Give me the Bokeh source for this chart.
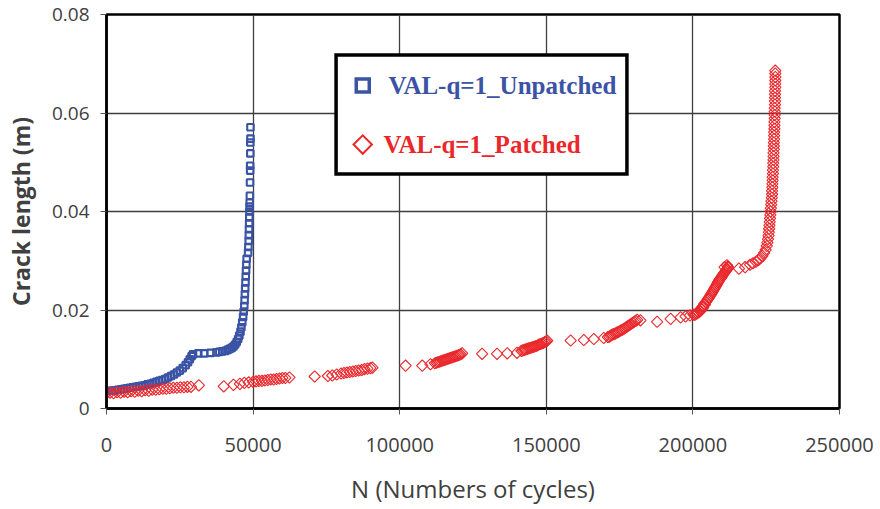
import math
from bokeh.plotting import figure
from bokeh.models import Range1d, FixedTicker
from bokeh.embed import file_html
from bokeh.resources import INLINE
from bokeh.core.properties import value

# ---------------- data ----------------
series_names = ["VAL-q=1_Unpatched", "VAL-q=1_Patched"]

unpatched_n = [0, 1000, 2000, 3000, 4000, 5000, 6000, 7000, 8000, 9000, 10000,
               11000, 12000, 13000, 14000, 15000, 16000, 17000, 18000, 19000, 20000,
               21000, 22000, 23000, 24000, 25000, 26000, 27000, 27800, 28400, 29000,
               29500, 31300, 33300, 35500, 37500, 38500, 39500, 40500, 41300, 42000,
               42700, 43300, 43900, 44400, 44900, 45300, 45700, 46000, 46300, 46600,
               46800, 47000, 47100, 47200, 47300, 47400, 47500, 47600, 47700, 47800,
               48300, 48400, 48500, 48550, 48600, 48650, 48700, 48750, 48800, 48850,
               48900, 48950, 49000, 49000, 49050, 49050, 49100, 49100]
unpatched_a = [0.0035, 0.0036, 0.0036, 0.0037, 0.0038, 0.0039, 0.0040, 0.0041, 0.0042, 0.0043, 0.0044,
               0.0045, 0.0046, 0.0047, 0.0049, 0.0050, 0.0052, 0.0054, 0.0056, 0.0058, 0.0060,
               0.0063, 0.0066, 0.0069, 0.0073, 0.0077, 0.0082, 0.0088, 0.0094, 0.0100, 0.0106,
               0.0110, 0.0112, 0.0112, 0.0113, 0.0114, 0.0115, 0.0116, 0.0117, 0.0119, 0.0121,
               0.0123, 0.0126, 0.0130, 0.0135, 0.0141, 0.0148, 0.0156, 0.0165, 0.0175, 0.0186,
               0.0197, 0.0208, 0.0220, 0.0232, 0.0244, 0.0256, 0.0268, 0.0280, 0.0292, 0.0304,
               0.0316, 0.0328, 0.0340, 0.0352, 0.0364, 0.0376, 0.0388, 0.0400, 0.0410, 0.0418,
               0.0432, 0.0459, 0.0483, 0.0493, 0.0518, 0.0540, 0.0548, 0.0571]

patched_n = [0, 1200, 2400, 3600, 4800, 6000, 7200, 8400, 9600, 10800, 12000,
             13200, 14400, 15600, 16800, 18000, 19200, 20400, 21600, 22800, 24000,
             25200, 26400, 27600, 28800, 31500,
             40000, 43300, 45500, 47000, 48500, 50000, 51000, 52000, 53000, 54000,
             55000, 56000, 57000, 58000, 59000, 60000, 61000, 62400,
             71000, 75500, 77000, 78500, 80000, 81000, 82000, 83000, 84000, 85000,
             86000, 87000, 88000, 89000, 90000, 90700,
             102000, 107700, 110500, 112000, 113000, 114000, 115000, 116000, 117000,
             118000, 119000, 120000, 120800, 121300,
             112500, 113500, 114500, 115500, 116500, 117500, 118500, 119500, 120400,
             128100, 133200, 136700, 140000, 141500, 142500, 143500, 144500, 145500,
             146500, 147500, 148500, 149500, 150300,
             142000, 143000, 144000, 145000, 146000, 147000, 148000, 149000, 150000,
             158300, 162800, 166200, 169600, 171000, 172000, 173000, 174000, 175000,
             176000, 177000, 178000, 179000, 180000, 181000, 182100,
             171500, 172500, 173500, 174500, 175500, 176500, 177500, 178500, 179500, 180500,
             187800, 192400, 195800, 197500, 199000, 200200, 201400, 202000, 202500,
             203000, 203500, 204100, 204800, 205400, 206000, 206600, 207200, 207700,
             208300, 208800, 209300, 209800, 210300, 210800, 211300, 211700, 212000,
             200600, 201000, 201700, 202200, 202800, 203300, 203800, 204400, 205100, 205700,
             206300, 206900, 207500, 208000, 208500, 209000, 209500, 210000, 210500, 211000,
             211500, 211900, 210800, 211600,
             215700, 217800, 219500, 220500, 221500, 222300, 223000, 223700, 224300, 224800,
             225200, 225400, 225600, 225800, 225900, 226000, 226100, 226200, 226300, 226400,
             226500, 226600, 226700, 226800, 226900, 227000, 227000, 227100, 227100, 227200,
             227200, 227300, 227300, 227400, 227400, 227500, 227500, 227500, 227600, 227600,
             227600, 227700, 227700, 227700, 227800, 227800, 227800, 227900, 227900, 227900,
             227900, 228000, 228000, 228000, 228000, 228000, 228100, 228100, 228100, 228100,
             228100, 228100]
patched_a = [0.0031, 0.0032, 0.0031, 0.0033, 0.0032, 0.0034, 0.0033, 0.0035, 0.0034, 0.0036, 0.0035,
             0.0037, 0.0036, 0.0038, 0.0038, 0.0039, 0.0040, 0.0040, 0.0041, 0.0042, 0.0042,
             0.0043, 0.0043, 0.0044, 0.0044, 0.0047,
             0.0045, 0.0048, 0.0050, 0.0052, 0.0053, 0.0054, 0.0055, 0.0056, 0.0056, 0.0057,
             0.0058, 0.0059, 0.0059, 0.0060, 0.0061, 0.0062, 0.0062, 0.0063,
             0.0065, 0.0066, 0.0067, 0.0069, 0.0071, 0.0072, 0.0073, 0.0074, 0.0075, 0.0076,
             0.0077, 0.0078, 0.0080, 0.0081, 0.0082, 0.0083,
             0.0087, 0.0087, 0.0090, 0.0092, 0.0094, 0.0096, 0.0098, 0.0100, 0.0102,
             0.0104, 0.0106, 0.0108, 0.0110, 0.0112,
             0.0093, 0.0095, 0.0097, 0.0099, 0.0101, 0.0103, 0.0105, 0.0107, 0.0109,
             0.0111, 0.0111, 0.0112, 0.0113, 0.0117, 0.0119, 0.0121, 0.0123, 0.0125,
             0.0127, 0.0130, 0.0132, 0.0135, 0.0138,
             0.0118, 0.0120, 0.0122, 0.0124, 0.0126, 0.0128, 0.0131, 0.0133, 0.0136,
             0.0138, 0.0139, 0.0141, 0.0143, 0.0145, 0.0148, 0.0151, 0.0154, 0.0157,
             0.0160, 0.0164, 0.0168, 0.0172, 0.0176, 0.0180, 0.0179,
             0.0146, 0.0150, 0.0152, 0.0155, 0.0159, 0.0162, 0.0166, 0.0170, 0.0174, 0.0178,
             0.0176, 0.0182, 0.0185, 0.0187, 0.0189, 0.0191, 0.0193, 0.0195, 0.0198,
             0.0201, 0.0205, 0.0211, 0.0219, 0.0224, 0.0230, 0.0236, 0.0242, 0.0247,
             0.0253, 0.0258, 0.0263, 0.0267, 0.0272, 0.0276, 0.0280, 0.0283, 0.0286,
             0.0190, 0.0192, 0.0196, 0.0199, 0.0203, 0.0207, 0.0212, 0.0216, 0.0222, 0.0227,
             0.0233, 0.0239, 0.0245, 0.0250, 0.0256, 0.0261, 0.0265, 0.0270, 0.0274, 0.0278,
             0.0282, 0.0288, 0.0287, 0.0291,
             0.0284, 0.0287, 0.0292, 0.0295, 0.0298, 0.0301, 0.0305, 0.0310, 0.0316, 0.0322,
             0.0330, 0.0337, 0.0344, 0.0351, 0.0358, 0.0365, 0.0372, 0.0379, 0.0386, 0.0393,
             0.0400, 0.0407, 0.0414, 0.0421, 0.0428, 0.0435, 0.0442, 0.0449, 0.0456, 0.0463,
             0.0470, 0.0477, 0.0484, 0.0491, 0.0498, 0.0505, 0.0512, 0.0519, 0.0526, 0.0533,
             0.0540, 0.0547, 0.0554, 0.0561, 0.0568, 0.0575, 0.0582, 0.0589, 0.0596, 0.0603,
             0.0610, 0.0617, 0.0624, 0.0631, 0.0638, 0.0645, 0.0652, 0.0659, 0.0666, 0.0673,
             0.0680, 0.0686]

x_ticks = [0, 50000, 100000, 150000, 200000, 250000]
x_tick_labels = ["0", "50000", "100000", "150000", "200000", "250000"]
y_ticks = [0, 0.02, 0.04, 0.06, 0.08]
y_tick_labels = ["0", "0.02", "0.04", "0.06", "0.08"]

x_title = "N (Numbers of cycles)"
y_title = "Crack length (m)"

# ---------------- styling / layout constants ----------------
BLUE = "#3A53A5"
RED = "#EA282C"
AXIS_TEXT = "#404040"
GRID = "#3f3f3f"

# legend panel placement (in axis units)
LEG_LEFT, LEG_RIGHT = 78300, 177500
LEG_TOP, LEG_BOTTOM = 0.0718, 0.0476
LEG_MARK_X = 87400
LEG_ROW_Y = [0.0656, 0.0536]
LEG_TEXT_X = [96200, 94500]

p = figure(frame_width=733, frame_height=394,
           min_border_left=106, min_border_right=40,
           min_border_top=14, min_border_bottom=100,
           x_range=Range1d(0, 250000), y_range=Range1d(0, 0.08),
           output_backend="svg", toolbar_location=None,
           background_fill_color="white", border_fill_color="white")

p.outline_line_color = "black"
p.outline_line_width = 2.5

# axes
for ax in (p.xaxis[0], p.yaxis[0]):
    ax.axis_line_color = "black"
    ax.axis_line_width = 2.5
    ax.major_tick_line_color = "#555555"
    ax.major_tick_line_width = 1
    ax.major_tick_in = 0
    ax.major_tick_out = 6
    ax.minor_tick_line_color = None
    ax.major_label_text_color = AXIS_TEXT
    ax.major_label_text_font = "Open Sans"
    ax.axis_label_text_color = AXIS_TEXT
    ax.axis_label_text_font = "Open Sans"

p.xaxis.ticker = FixedTicker(ticks=x_ticks)
p.xaxis.major_label_overrides = dict(zip(x_ticks, x_tick_labels))
p.xaxis.major_label_text_font_size = "20px"
p.xaxis.major_label_standoff = 23
p.xaxis.axis_label = x_title
p.xaxis.axis_label_text_font_size = "24px"
p.xaxis.axis_label_text_font_style = "normal"
p.xaxis.axis_label_standoff = 17

p.yaxis.ticker = FixedTicker(ticks=y_ticks)
p.yaxis.major_label_overrides = dict(zip(y_ticks, y_tick_labels))
p.yaxis.major_label_text_font_size = "19px"
p.yaxis.major_label_standoff = 11
p.yaxis.axis_label = y_title
p.yaxis.axis_label_text_font_size = "23px"
p.yaxis.axis_label_text_font_style = "bold"
p.yaxis.axis_label_standoff = 12

p.xgrid.ticker = FixedTicker(ticks=x_ticks)
p.ygrid.ticker = FixedTicker(ticks=y_ticks)
p.xgrid.grid_line_color = GRID
p.ygrid.grid_line_color = GRID
p.xgrid.grid_line_width = 1.3
p.ygrid.grid_line_width = 1.3

# data series
p.scatter(x=unpatched_n, y=unpatched_a, marker="square", size=6.5,
          fill_color=None, line_color=BLUE, line_width=2.1)
p.scatter(x=patched_n, y=patched_a, marker="square", angle=math.pi / 4, size=8,
          fill_color=None, line_color=RED, line_width=1.1)

# legend panel
p.quad(left=[LEG_LEFT], right=[LEG_RIGHT], top=[LEG_TOP], bottom=[LEG_BOTTOM],
       fill_color="white", line_color="black", line_width=3.5, line_join="miter")
p.scatter(x=[LEG_MARK_X], y=[LEG_ROW_Y[0]], marker="square", size=13,
          fill_color=None, line_color=BLUE, line_width=3.5, line_join="miter")
p.scatter(x=[LEG_MARK_X], y=[LEG_ROW_Y[1]], marker="square", angle=math.pi / 4, size=13,
          fill_color=None, line_color=RED, line_width=2, line_join="miter")
p.text(x=[LEG_TEXT_X[0]], y=[LEG_ROW_Y[0]], text=[series_names[0]],
       text_font=value("Liberation Serif"), text_font_style="bold",
       text_font_size="25px", text_color=BLUE, text_baseline="middle", text_align="left")
p.text(x=[LEG_TEXT_X[1]], y=[LEG_ROW_Y[1]], text=[series_names[1]],
       text_font=value("Liberation Serif"), text_font_style="bold",
       text_font_size="25px", text_color=RED, text_baseline="middle", text_align="left")

open("out.html", "w").write(file_html(p, INLINE))
